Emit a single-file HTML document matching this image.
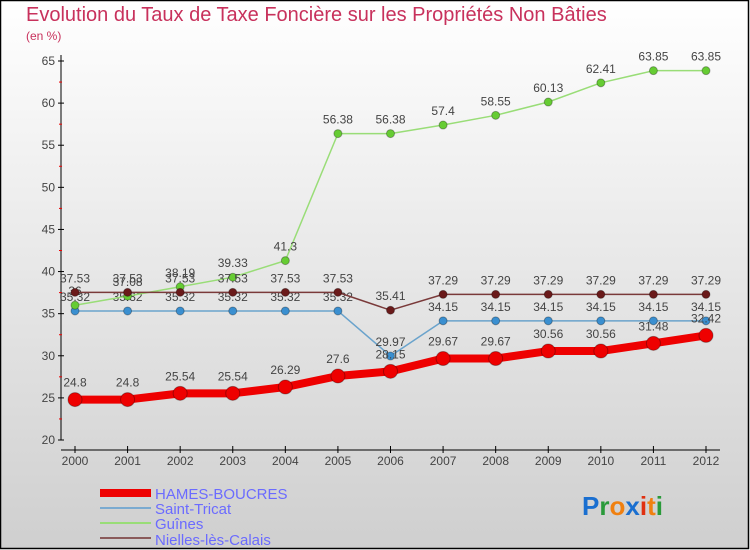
<!DOCTYPE html>
<html><head><meta charset="utf-8"><style>
body{margin:0;width:750px;height:550px;overflow:hidden;font-family:"Liberation Sans",sans-serif}
svg{display:block}
</style></head><body>
<svg id="c" width="750" height="550" xmlns="http://www.w3.org/2000/svg">
<defs><linearGradient id="bg" x1="0" y1="0" x2="0" y2="1"><stop offset="0" stop-color="#ffffff"/><stop offset="1" stop-color="#cfcfcf"/></linearGradient></defs>
<rect x="0.5" y="0.5" width="748" height="548" fill="url(#bg)" stroke="#000" stroke-width="1.5"/>
<text x="26" y="21" font-size="20" fill="#c8315c">Evolution du Taux de Taxe Foncière sur les Propriétés Non Bâties</text>
<text x="26" y="40" font-size="12" fill="#c8315c">(en %)</text>
<g id="axes"></g><g id="series"></g>
<g>
<rect x="100" y="489" width="51" height="8" fill="#e00"/>
<text x="155" y="499" font-size="15" fill="#6b6bff">HAMES-BOUCRES</text>
<line x1="100" y1="508" x2="151" y2="508" stroke="#7aaad0" stroke-width="2"/>
<text x="155" y="514" font-size="15" fill="#6b6bff">Saint-Tricat</text>
<line x1="100" y1="523" x2="151" y2="523" stroke="#99dd77" stroke-width="2"/>
<text x="155" y="529" font-size="15" fill="#6b6bff">Guînes</text>
<line x1="100" y1="538" x2="151" y2="538" stroke="#8a5a5a" stroke-width="2"/>
<text x="155" y="545" font-size="15" fill="#6b6bff">Nielles-lès-Calais</text>
</g>
<text x="582" y="515" font-size="26" font-weight="bold"><tspan fill="#1a6fd0">P</tspan><tspan fill="#2a9a3a">r</tspan><tspan fill="#f08010">o</tspan><tspan fill="#1a6fd0">x</tspan><tspan fill="#e03010">i</tspan><tspan fill="#f08010">t</tspan><tspan fill="#2a9a3a">i</tspan></text>
</svg>
<script>
const years=[2000,2001,2002,2003,2004,2005,2006,2007,2008,2009,2010,2011,2012];
const yTicks=[20,25,30,35,40,45,50,55,60,65];
const hames=[24.8,24.8,25.54,25.54,26.29,27.6,28.15,29.67,29.67,30.56,30.56,31.48,32.42];
const saintTricat=[35.32,35.32,35.32,35.32,35.32,35.32,29.97,34.15,34.15,34.15,34.15,34.15,34.15];
const guines=[36,37.08,38.19,39.33,41.3,56.38,56.38,57.4,58.55,60.13,62.41,63.85,63.85];
const nielles=[37.53,37.53,37.53,37.53,37.53,37.53,35.41,37.29,37.29,37.29,37.29,37.29,37.29];
const NS="http://www.w3.org/2000/svg";
const xs=i=>75+i*(706-75)/(years.length-1);
const ys=v=>440-(v-20)*(440-61)/45;
function mk(t,a,p){const e=document.createElementNS(NS,t);for(const k in a)e.setAttribute(k,a[k]);p.appendChild(e);return e;}
const ax=document.getElementById('axes');
let e=mk('line',{x1:61,y1:55,x2:61,y2:440,stroke:'#000'},ax);


e=mk('line',{x1:61,y1:450,x2:720,y2:450,stroke:'#000'},ax);


yTicks.forEach(v=>{const y=ys(v);mk('line',{x1:58,y1:y,x2:64,y2:y,stroke:'#000'},ax);
 if(v<65)mk('line',{x1:59,y1:ys(v+2.5),x2:62,y2:ys(v+2.5),stroke:'#e00'},ax);
 const t=mk('text',{x:55,y:y+4,'font-size':12,fill:'#444','text-anchor':'end'},ax);t.textContent=v;
 
 });
years.forEach((yr,i)=>{const x=xs(i);mk('line',{x1:x,y1:446,x2:x,y2:453,stroke:'#000'},ax);
 const t=mk('text',{x:x,y:465,'font-size':12,fill:'#444','text-anchor':'middle'},ax);t.textContent=yr;
 
 });
const sg=document.getElementById('series');
function draw(name,data,line,fill,w,r){
 const g=mk('g',{},sg);
 
 
 const p=mk('polyline',{points:data.map((v,i)=>xs(i)+','+ys(v)).join(' '),fill:'none',stroke:line,'stroke-width':w,'stroke-linejoin':'round'},g);
 
 
 data.forEach((v,i)=>{const c=mk('circle',{cx:xs(i),cy:ys(v),r:r,fill:fill,stroke:'rgba(0,0,0,0.3)'},g);
  
  
  const t=mk('text',{x:xs(i),y:ys(v)-(r+6),'font-size':12,fill:'#444','text-anchor':'middle'},g);t.textContent=v;
  
  });
}
draw('saint-tricat',saintTricat,'#6aa3cc','#3a8fd0',1.5,4);
draw('guines',guines,'#99dd77','#66cc33',1.5,4);
draw('nielles',nielles,'#7a3a3a','#6a1a1a',1.5,4);
draw('hames-boucres',hames,'#ee0000','#ee0000',8,7);
</script>
</body></html>
